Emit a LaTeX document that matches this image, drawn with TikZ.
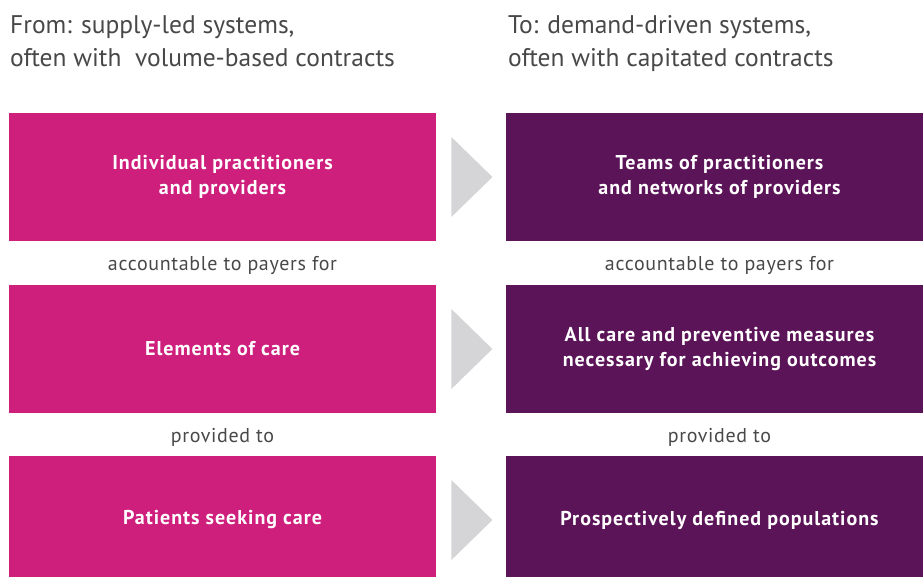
\documentclass[tikz,border=0pt]{standalone}
\usepackage{fontspec}
\setmainfont{PT Sans}
\usetikzlibrary{shapes.geometric,calc}
\definecolor{supplypink}{HTML}{CF1F7D}
\definecolor{demandplum}{HTML}{5C1459}
\definecolor{chevrongrey}{HTML}{D5D5D7}
\definecolor{labelgrey}{HTML}{484848}
\tikzset{
  box/.style={minimum width=427pt, minimum height=128pt, inner sep=0pt,
    text=white, align=center,
    font=\fontsize{20}{25}\selectfont\bfseries\addfontfeatures{LetterSpace=5}},
  frombox/.style={box, fill=supplypink},
  tobox/.style={box, fill=demandplum},
  chevron/.style={isosceles triangle, isosceles triangle stretches, anchor=west,
    fill=chevrongrey, minimum width=80pt, minimum height=41pt, inner sep=0pt},
  link/.style={text=labelgrey, inner sep=0pt,
    font=\fontsize{20}{23}\selectfont\addfontfeatures{LetterSpace=3.3}},
  heading/.style={anchor=north west, align=left, inner sep=0pt,
    text=labelgrey, font=\fontsize{25.5}{33}\selectfont}
}
\begin{document}
\begin{tikzpicture}[x=1pt, y=-1pt]
\clip (0,0) rectangle (923,576);

\node[heading] (fromhead) at (10,15) {From: supply-led systems,\\often with~ volume-based contracts};
\node[heading] (tohead) at (508,15) {To: demand-driven systems,\\often with capitated contracts};

\foreach \row/\yy/\fromtext/\totext in {
    1/177/{Individual practitioners\\and providers}/{Teams of practitioners\\and networks of providers},
    2/349/{Elements of care}/{All care and preventive measures\\necessary for achieving outcomes},
    3/520/{Patients seeking care}/{Prospectively defined populations}}
{
  \node[frombox] (from\row) at (222.5,\yy) {\fromtext};
  \node[tobox] (to\row) at (719.5,\yy) {\totext};
  \node[chevron] (chev\row) at ($(from\row.east)+(15,0)$) {};
}

\node[link] (fromlink1) at ($(from1.south)!.5!(from2.north)+(0,2)$) {accountable to payers for};
\node[link] (tolink1) at ($(to1.south)!.5!(to2.north)+(0,2)$) {accountable to payers for};
\node[link] (fromlink2) at ($(from2.south)!.5!(from3.north)+(0,3)$) {provided to};
\node[link] (tolink2) at ($(to2.south)!.5!(to3.north)+(0,3)$) {provided to};
\end{tikzpicture}
\end{document}
